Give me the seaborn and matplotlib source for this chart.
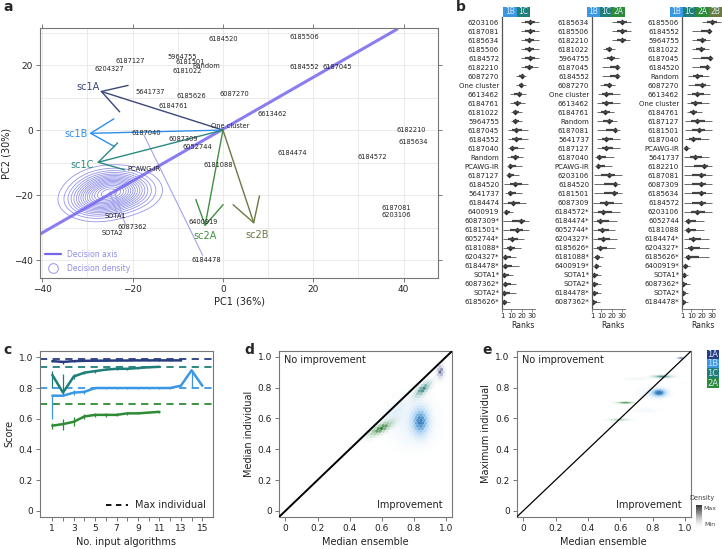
import numpy as np
import pandas as pd
import matplotlib
matplotlib.use("Agg")
import matplotlib.pyplot as plt
import seaborn as sns
from matplotlib.colors import LinearSegmentedColormap, to_rgb
from matplotlib.lines import Line2D
from matplotlib.patches import Rectangle

sns.set_theme(style="ticks")
plt.rcParams["font.family"] = ["DejaVu Sans"]

# ---------------- DATA ----------------
# panel a: PCA
sample_names = ["6184520", "6185506", "6187127", "6204327", "5964755", "6181501", "Random",
                "6181022", "6184552", "6187045", "5641737", "6185626", "6087270", "6184761",
                "6613462", "One cluster", "6187040", "6087309", "6052744", "6184474", "6184572",
                "6181088", "PCAWG-IR", "6182210", "6185634", "6187081", "6203106", "SOTA1",
                "6087362", "SOTA2", "6400919", "6184478"]
sample_x = [0.1, 18.0, -20.6, -25.2, -9.1, -7.3, -3.8, -7.8, 18.1, 25.4, -16.2, -6.9, 2.5, -11.0,
            10.8, 1.5, -16.9, -8.8, -5.6, 15.3, 33.0, -1.0, -17.5, 41.7, 42.1, 38.4, 38.4, -23.9,
            -20.0, -24.4, -4.4, -3.6]
sample_y = [28.0, 28.7, 21.2, 18.8, 22.6, 21.0, 19.6, 18.1, 19.3, 19.3, 11.8, 10.6, 11.2, 7.4,
            4.8, 1.3, -0.8, -2.7, -5.3, -7.2, -8.4, -10.6, -12.0, 0.0, -3.8, -24.1, -26.2, -26.4,
            -29.8, -31.7, -28.2, -40.0]
vec_names = ["sc1A", "sc1B", "sc1C", "sc2A", "sc2B"]
vec_x = [-27.2, -29.6, -27.9, -4.0, 6.9]
vec_y = [12.0, -1.0, -10.0, -29.7, -28.9]
vec_lab_x = [-29.8, -32.6, -31.2, -4.0, 7.6]
vec_lab_y = [13.3, -1.2, -10.6, -32.6, -32.3]
vec_colors = ["#3b4878", "#2f8fe8", "#2a8a80", "#3f9040", "#6a7a42"]
axis_x = [-40.5, 38.5]
axis_y = [-32.0, 31.0]
# decision density: mixture components (centre x, centre y, sd x, sd y, weight)
dens_cx = [-24.0, -28.5]
dens_cy = [-18.5, -22.0]
dens_sx = [4.6, 3.8]
dens_sy = [3.4, 3.0]
dens_w = [0.7, 0.35]
seg_x0 = [-17.5, -25.0, -24.0]
seg_y0 = [-1.5, -19.0, -19.0]
seg_x1 = [-4.5, -23.5, -21.5]
seg_y1 = [-38.5, -25.5, -29.5]

# panel b: rank summaries (low, median, high)
b1_names = ["6203106", "6187081", "6185634", "6185506", "6184572", "6182210", "6087270", "One cluster",
            "6613462", "6184761", "6181022", "5964755", "6187045", "6184552", "6187040", "Random",
            "PCAWG-IR", "6187127", "6184520", "5641737", "6184474", "6400919", "6087309*", "6181501*",
            "6052744*", "6181088*", "6204327*", "6184478*", "SOTA1*", "6087362*", "SOTA2*", "6185626*"]
b1_lo = [19, 19, 19, 19, 19, 19, 15, 15, 9, 9, 10, 10, 7, 7, 7, 6, 6, 5, 3, 4, 2, 2, 2, 2, 2, 2, 2, 2, 2, 2, 2, 2]
b1_med = [28, 28, 27, 27, 28, 27, 20, 19, 17, 16, 14, 14, 15, 15, 11, 14, 9, 8, 14, 9, 12, 5, 19, 16, 11, 9, 4, 4, 3, 4, 3, 3]
b1_hi = [37, 37, 37, 37, 37, 36, 24, 24, 24, 23, 20, 20, 26, 26, 22, 21, 20, 17, 26, 20, 24, 12, 27, 27, 22, 19, 15, 17, 12, 15, 15, 9]
b2_names = ["6185634", "6185506", "6182210", "6181022", "5964755", "6187045", "6184552", "6087270",
            "One cluster", "6613462", "6184761", "Random", "6187081", "5641737", "6187127", "6187040",
            "PCAWG-IR", "6203106", "6184520", "6181501", "6087309", "6184572*", "6184474*", "6052744*",
            "6204327*", "6185626*", "6181088*", "6400919*", "SOTA1*", "SOTA2*", "6184478*", "6087362*"]
b2_lo = [20, 20, 20, 12, 12, 11, 11, 9, 7, 6, 6, 6, 6, 6, 6, 4, 4, 3, 3, 3, 2, 2, 2, 2, 2, 2, 2, 2, 2, 2, 2, 2]
b2_med = [30, 30, 30, 17, 19, 25, 25, 17, 15, 15, 14, 17, 23, 15, 15, 8, 7, 17, 23, 22, 15, 12, 9, 11, 12, 9, 6, 5, 3, 3, 3, 2]
b2_hi = [39, 39, 38, 23, 27, 28, 28, 23, 28, 28, 22, 25, 28, 28, 28, 22, 20, 30, 28, 30, 30, 28, 25, 23, 25, 23, 12, 10, 10, 10, 10, 9]
b3_names = ["6185506", "6184552", "5964755", "6181022", "6187045", "6184520", "Random", "6087270",
            "6613462", "One cluster", "6184761", "6187127", "6181501", "6187040", "PCAWG-IR", "5641737",
            "6182210", "6187081", "6087309", "6185634", "6184572", "6203106", "6052744", "6181088",
            "6184474*", "6204327*", "6185626*", "6400919*", "SOTA1*", "6087362*", "SOTA2*", "6184478*"]
b3_lo = [20, 11, 11, 11, 11, 11, 7, 7, 6, 6, 6, 4, 4, 4, 3, 3, 3, 3, 3, 3, 3, 3, 3, 3, 3, 3, 3, 2, 2, 2, 2, 2]
b3_med = [30, 27, 20, 19, 28, 25, 16, 20, 16, 14, 12, 16, 17, 12, 5, 14, 22, 19, 19, 19, 19, 16, 7, 7, 12, 10, 7, 4, 3, 2, 2, 2]
b3_hi = [39, 28, 28, 27, 30, 28, 27, 28, 28, 27, 20, 30, 30, 27, 9, 27, 30, 30, 30, 30, 30, 30, 22, 22, 27, 27, 27, 9, 7, 9, 7, 7]
b1_tags = ["1B", "1C"]
b2_tags = ["1B", "1C", "2A"]
b3_tags = ["1B", "1C", "2A", "2B"]

# panel c
c_x_1A = list(range(1, 14))
c_1A = [0.975, 0.970, 0.975, 0.977, 0.978, 0.978, 0.979, 0.979, 0.980, 0.980, 0.980, 0.980, 0.980]
c_1A_lo = [0.970, 0.958, 0.970, 0.973, 0.975, 0.975, 0.976, 0.976, 0.977, 0.977, 0.977, 0.977, 0.977]
c_1A_hi = [0.980, 0.978, 0.980, 0.981, 0.981, 0.981, 0.982, 0.982, 0.982, 0.982, 0.982, 0.982, 0.982]
c_x_1C = list(range(1, 12))
c_1C = [0.885, 0.770, 0.875, 0.900, 0.910, 0.920, 0.925, 0.925, 0.930, 0.935, 0.938]
c_1C_lo = [0.800, 0.750, 0.860, 0.890, 0.900, 0.915, 0.918, 0.920, 0.925, 0.930, 0.935]
c_1C_hi = [0.910, 0.890, 0.890, 0.910, 0.920, 0.928, 0.932, 0.930, 0.935, 0.940, 0.940]
c_x_1B = list(range(1, 16))
c_1B = [0.750, 0.750, 0.770, 0.775, 0.800, 0.800, 0.800, 0.800, 0.800, 0.800, 0.800, 0.800, 0.815, 0.915, 0.815]
c_1B_lo = [0.600, 0.745, 0.755, 0.760, 0.795, 0.795, 0.795, 0.795, 0.795, 0.795, 0.795, 0.795, 0.810, 0.800, 0.810]
c_1B_hi = [0.755, 0.760, 0.790, 0.790, 0.805, 0.805, 0.805, 0.805, 0.805, 0.805, 0.805, 0.805, 0.820, 0.920, 0.820]
c_x_2A = list(range(1, 12))
c_2A = [0.555, 0.565, 0.580, 0.615, 0.625, 0.625, 0.625, 0.635, 0.635, 0.640, 0.645]
c_2A_lo = [0.530, 0.525, 0.550, 0.600, 0.610, 0.610, 0.615, 0.625, 0.630, 0.635, 0.640]
c_2A_hi = [0.575, 0.595, 0.610, 0.630, 0.640, 0.640, 0.635, 0.645, 0.640, 0.645, 0.650]
max_individual = {"1A": 0.99, "1C": 0.94, "1B": 0.80, "2A": 0.695}

group_colors = {"1A": "#283c80", "1B": "#3a97e6", "1C": "#1f7f78", "2A": "#2e8b35", "2B": "#6b7b3c"}

# panels d/e: density blobs (group, cx, cy, sd major, sd minor, angle deg, weight)
d_blobs = [("2A", 0.595, 0.535, 0.055, 0.016, 30, 1.0),
           ("1B", 0.840, 0.580, 0.034, 0.060, 0, 0.9),
           ("1B", 0.790, 0.580, 0.090, 0.100, 0, 0.13),
           ("1B", 0.680, 0.640, 0.070, 0.025, 45, 0.16),
           ("1C", 0.855, 0.790, 0.042, 0.016, 45, 0.95),
           ("1A", 0.965, 0.905, 0.011, 0.025, 0, 0.9)]
e_blobs = [("1B", 0.840, 0.765, 0.030, 0.017, 0, 1.0),
           ("1B", 0.790, 0.760, 0.060, 0.022, 0, 0.14),
           ("1B", 0.750, 0.650, 0.050, 0.010, 0, 0.10),
           ("1C", 0.860, 0.870, 0.040, 0.006, 0, 0.9),
           ("1C", 0.700, 0.855, 0.050, 0.005, 0, 0.12),
           ("2A", 0.630, 0.700, 0.035, 0.004, 0, 1.0),
           ("2A", 0.590, 0.590, 0.040, 0.004, 0, 0.6),
           ("1A", 0.975, 0.990, 0.015, 0.004, 0, 0.9)]

# ---------------- FIGURE ----------------
W, H = 722, 549
fig = plt.figure(figsize=(W / 100, H / 100), dpi=100)


def box(l, t, r, b):
    return [l / W, 1 - b / H, (r - l) / W, (b - t) / H]


def style_axes(ax):
    for s in ax.spines.values():
        s.set_color("#777777")
        s.set_linewidth(0.8)
    ax.tick_params(labelsize=6.5, length=3, width=0.7, color="#777777", pad=2, labelcolor="#222222")


# ---- panel a ----
ax = fig.add_axes(box(40, 28, 438, 278))
style_axes(ax)
ax.set_xlim(-40.5, 47.6)
ax.set_ylim(-45.5, 31.4)
ax.set_xticks([-40, -20, 0, 20, 40])
ax.set_yticks([-40, -20, 0, 20])
ax.set_xticks(np.arange(-40, 50, 10), minor=True)
ax.set_yticks(np.arange(-40, 31, 10), minor=True)
ax.grid(which="both", color="#e8e8e8", lw=0.6)
ax.tick_params(which="minor", length=0)
ax.tick_params(top=True, right=True, labeltop=False, labelright=False)
ax.set_xlabel("PC1 (36%)", fontsize=7, labelpad=2, color="#222")
ax.set_ylabel("PC2 (30%)", fontsize=7, labelpad=2, color="#222")

gx, gy = np.meshgrid(np.linspace(-42, -5, 300), np.linspace(-40, 0, 300))
Z = np.zeros_like(gx)
for cx, cy, sx, sy, w in zip(dens_cx, dens_cy, dens_sx, dens_sy, dens_w):
    Z += w * np.exp(-0.5 * (((gx - cx) / sx) ** 2 + ((gy - cy) / sy) ** 2))
ax.contour(gx, gy, Z, levels=np.linspace(0.06, 0.95, 16) * Z.max(), colors="#9595ea", linewidths=0.6)
for x0, y0, x1, y1 in zip(seg_x0, seg_y0, seg_x1, seg_y1):
    ax.plot([x0, x1], [y0, y1], color="#a3a3ec", lw=0.8)
sns.lineplot(x=axis_x, y=axis_y, ax=ax, color="#7466ee", lw=2.2, alpha=0.85)

for tx, ty, lx, ly, nm, col in zip(vec_x, vec_y, vec_lab_x, vec_lab_y, vec_names, vec_colors):
    ax.annotate("", xy=(tx, ty), xytext=(0, 0),
                arrowprops=dict(arrowstyle="->,head_length=0.85,head_width=0.5", color=col, lw=1.0,
                                mutation_scale=20, shrinkA=0, shrinkB=0))
    ax.text(lx, ly, nm, color=col, fontsize=7, ha="center", va="center")
for nm, x, y in zip(sample_names, sample_x, sample_y):
    ax.text(x, y, nm, fontsize=4.8, ha="center", va="center", color="#222222")

leg_handles = [Line2D([], [], color="#7466ee", lw=1.6),
               Line2D([], [], color="#9595ea", lw=0, marker="o", ms=7, mfc="none", mew=0.7)]
ax.legend(leg_handles, ["Decision axis", "Decision density"], loc="lower left", frameon=False,
          fontsize=5.5, labelcolor="#8d8de8", handlelength=2.0, borderaxespad=0.3, labelspacing=0.6)

# ---- panel b ----
b_sets = [(b1_names, b1_lo, b1_med, b1_hi, 502), (b2_names, b2_lo, b2_med, b2_hi, 592),
          (b3_names, b3_lo, b3_med, b3_hi, 682)]
for names, lo, med, hi, left in b_sets:
    axb = fig.add_axes(box(left, 17.5, left + 41, 309))
    rows = np.arange(1, len(names) + 1)
    dfb = pd.DataFrame({"row": rows, "lo": lo, "med": med, "hi": hi})
    axb.hlines(dfb["row"], dfb["lo"], dfb["hi"], color="#6a6a6a", lw=0.7)
    axb.hlines(dfb["row"], (dfb["lo"] + dfb["med"]) / 2, (dfb["med"] + dfb["hi"]) / 2, color="#444444", lw=1.6)
    sns.scatterplot(data=dfb, x="med", y="row", ax=axb, color="#2a2a2a", s=9, marker="D", linewidth=0)
    axb.set_xlim(1, 40.7)
    axb.set_ylim(32.8, 0.5)
    axb.set_yticks(rows)
    axb.set_yticklabels(names, fontsize=5)
    axb.set_xticks([1, 10, 20, 30])
    axb.set_xlabel("Ranks", fontsize=5.5, labelpad=1, color="#222")
    axb.set_ylabel("")
    for s in ["top", "right"]:
        axb.spines[s].set_visible(False)
    axb.spines["left"].set_color("#555555")
    axb.spines["left"].set_linewidth(0.9)
    axb.spines["bottom"].set_color("#777777")
    axb.spines["bottom"].set_linewidth(0.7)
    axb.spines["bottom"].set_bounds(1, 33)
    axb.tick_params(axis="y", length=0, pad=2, labelcolor="#222")
    axb.tick_params(axis="x", labelsize=5, length=2, width=0.6, pad=1, color="#777")


def tag(x0, x1, yc, h, col, label, fs=5.5, tc="white"):
    fig.add_artist(Rectangle((x0 / W, 1 - (yc + h / 2) / H), (x1 - x0) / W, h / H,
                             transform=fig.transFigure, fc=col, ec="none"))
    fig.text((x0 + x1) / 2 / W, 1 - yc / H, label, fontsize=fs, color=tc, ha="center", va="center")


for tags, x0, x1 in [(b1_tags, 503, 530), (b2_tags, 587, 625), (b3_tags, 670, 722)]:
    wdt = (x1 - x0) / len(tags)
    for i, t in enumerate(tags):
        tag(x0 + i * wdt, x0 + (i + 1) * wdt, 12, 10, group_colors[t], t, tc="#d8ecff")

# ---- panel c ----
axc = fig.add_axes(box(40, 350.7, 213, 517))
style_axes(axc)
rows_c = []
for g, xs, ys in [("1A", c_x_1A, c_1A), ("1C", c_x_1C, c_1C), ("1B", c_x_1B, c_1B), ("2A", c_x_2A, c_2A)]:
    for x, y in zip(xs, ys):
        rows_c.append((g, x, y))
dfc = pd.DataFrame(rows_c, columns=["group", "n", "score"])
for g, yv in max_individual.items():
    axc.axhline(yv, color=group_colors[g], ls=(0, (4, 3)), lw=1.3)
for g, xs, lo, hi in [("1A", c_x_1A, c_1A_lo, c_1A_hi), ("1C", c_x_1C, c_1C_lo, c_1C_hi),
                      ("1B", c_x_1B, c_1B_lo, c_1B_hi), ("2A", c_x_2A, c_2A_lo, c_2A_hi)]:
    axc.vlines(xs, lo, hi, color=group_colors[g], lw=0.9)
sns.lineplot(data=dfc, x="n", y="score", hue="group", palette=group_colors, ax=axc, lw=1.8,
             legend=False, errorbar=None)
axc.set_xlim(-0.15, 16.0)
axc.set_ylim(-0.04, 1.043)
axc.set_xticks(range(1, 16))
axc.set_xticklabels([str(i) if i % 2 == 1 else "" for i in range(1, 16)])
axc.set_yticks([0, 0.2, 0.4, 0.6, 0.8, 1.0])
axc.set_yticklabels(["0", "0.2", "0.4", "0.6", "0.8", "1.0"])
axc.set_xlabel("No. input algorithms", fontsize=7, labelpad=3, color="#222")
axc.set_ylabel("Score", fontsize=7, labelpad=3, color="#222")
axc.legend([Line2D([], [], color="black", ls=(0, (3, 2.5)), lw=1.3)], ["Max individual"],
           loc="lower right", frameon=False, fontsize=7, handlelength=2.2, borderaxespad=0.3)


# ---- panels d / e ----
def blob_field(X, Y, cx, cy, s1, s2, ang, w):
    a = np.deg2rad(ang)
    u = (X - cx) * np.cos(a) + (Y - cy) * np.sin(a)
    v = -(X - cx) * np.sin(a) + (Y - cy) * np.cos(a)
    return w * np.exp(-0.5 * ((u / s1) ** 2 + (v / s2) ** 2))


def alpha_cmap(col):
    r, g, b = to_rgb(col)
    return LinearSegmentedColormap.from_list("a", [(r, g, b, 0.0), (r, g, b, 0.35), (r * 0.8, g * 0.8, b * 0.8, 1.0)])


def density_panel(rect, blobs, ylabel, lw_diag, hexes):
    a2 = fig.add_axes(rect)
    style_axes(a2)
    a2.set_xlim(-0.04, 1.035)
    a2.set_ylim(-0.04, 1.04)
    X, Y = np.meshgrid(np.linspace(-0.04, 1.04, 260), np.linspace(-0.04, 1.04, 260))
    for g in ["1B", "2A", "1C", "1A"]:
        Zg = np.zeros_like(X)
        for bg, cx, cy, s1, s2, ang, w in blobs:
            if bg == g:
                Zg += blob_field(X, Y, cx, cy, s1, s2, ang, w)
        Zg = np.clip(Zg, 0, 1)
        if hexes:
            m = Zg.ravel() > 0.01
            a2.hexbin(X.ravel()[m], Y.ravel()[m], C=Zg.ravel()[m], gridsize=55, reduce_C_function=np.mean,
                      cmap=alpha_cmap(group_colors[g]), vmin=0, vmax=1, linewidths=0,
                      extent=(-0.04, 1.04, -0.04, 1.04), zorder=2)
        else:
            a2.imshow(Zg, extent=(-0.04, 1.04, -0.04, 1.04), origin="lower", cmap=alpha_cmap(group_colors[g]),
                      vmin=0, vmax=1, interpolation="bilinear", aspect="auto", zorder=2)
    a2.plot([-0.04, 1.04], [-0.04, 1.04], color="black", lw=lw_diag, zorder=3)
    a2.set_xticks([0, 0.2, 0.4, 0.6, 0.8, 1.0])
    a2.set_xticklabels(["0", "0.2", "0.4", "0.6", "0.8", "1.0"])
    a2.set_yticks([0, 0.2, 0.4, 0.6, 0.8, 1.0])
    a2.set_yticklabels(["0", "0.2", "0.4", "0.6", "0.8", "1.0"])
    a2.set_xlabel("Median ensemble", fontsize=7, labelpad=3, color="#222")
    a2.set_ylabel(ylabel, fontsize=7, labelpad=3, color="#222")
    a2.text(0.03, 0.975, "No improvement", transform=a2.transAxes, fontsize=7, ha="left", va="top", color="#222")
    a2.text(0.95, 0.04, "Improvement", transform=a2.transAxes, fontsize=7, ha="right", va="bottom", color="#222")
    return a2


density_panel(box(279, 350.7, 451.7, 517), d_blobs, "Median individual", 1.4, True)
density_panel(box(516.7, 350.7, 690.7, 517), e_blobs, "Maximum individual", 0.9, False)

for t, y0, y1 in [("1A", 350, 359.3), ("1B", 359.3, 368.3), ("1C", 368.3, 378.3), ("2A", 378.3, 388.3)]:
    tag(706.7, 719.3, (y0 + y1) / 2, y1 - y0, group_colors[t], t, fs=6, tc="#d0e6ff")

cax = fig.add_axes(box(696, 505, 702, 527))
cax.imshow(np.linspace(1, 0, 50).reshape(-1, 1), cmap="Greys", aspect="auto", vmin=0, vmax=1.2)
cax.set_xticks([])
cax.set_yticks([])
for s in cax.spines.values():
    s.set_visible(False)
fig.text(702 / W, 1 - 498 / H, "Density", fontsize=4.8, ha="center", va="center", color="#444")
fig.text(710 / W, 1 - 508 / H, "Max", fontsize=4.5, ha="center", va="center", color="#444")
fig.text(710 / W, 1 - 524 / H, "Min", fontsize=4.5, ha="center", va="center", color="#444")

# panel letters
for letter, x, y in [("a", 3, 7), ("b", 456, 7), ("c", 3, 350), ("d", 244, 350), ("e", 482, 350)]:
    fig.text(x / W, 1 - y / H, letter, fontsize=10, fontweight="bold", ha="left", va="center")

fig.savefig("out.png", dpi=100)
